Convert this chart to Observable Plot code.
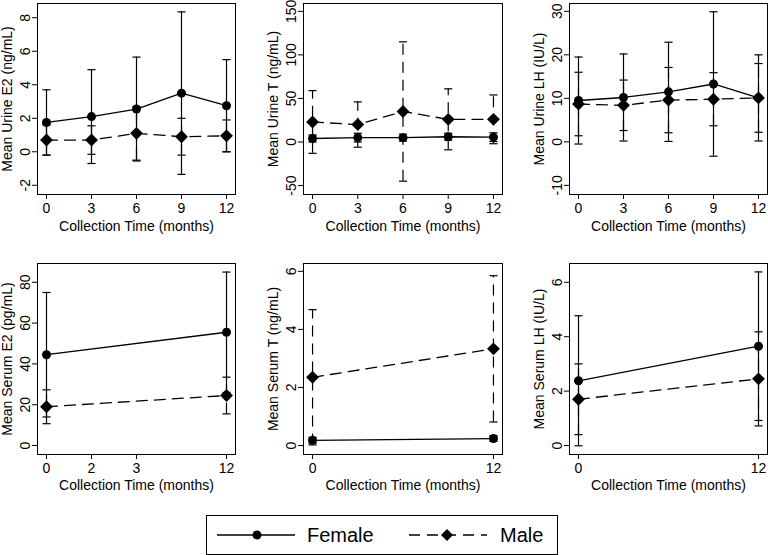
<!DOCTYPE html>
<html><head><meta charset="utf-8">
<script src="https://cdn.jsdelivr.net/npm/d3@7"></script>
<script src="https://cdn.jsdelivr.net/npm/@observablehq/plot@0.6"></script>
<style>
body{margin:0;background:#fff;}
#root{position:relative;width:768px;height:555px;font-family:"Liberation Sans",Arial,Helvetica,sans-serif;}
.cell{position:absolute;}
</style></head><body><div id="root"></div>
<script>
// ---- data ----
const monthsUrine = [0, 3, 6, 9, 12];
const monthsSerum = [0, 12];
const urineXTicks = [0, 3, 6, 9, 12];
const urineXTickLabels = ["0", "3", "6", "9", "12"];
const serumE2XTicks = [0, 3, 6, 12];
const serumE2XTickLabels = ["0", "2", "3", "12"];
const serumXTicks = [0, 12];
const serumXTickLabels = ["0", "12"];

const urineE2Female = [1.75, 2.1, 2.55, 3.5, 2.75];
const urineE2FemaleSD = [1.95, 2.8, 3.1, 4.85, 2.75];
const urineE2Male = [0.7, 0.7, 1.1, 0.9, 0.95];
const urineE2MaleSD = [0.9, 0.85, 1.6, 1.1, 0.95];
const urineE2YTicks = [-2, 0, 2, 4, 6, 8];

const urineTFemale = [4, 5, 5, 6, 5.5];
const urineTFemaleSD = [4, 5, 4, 4, 5];
const urineTMale = [23, 20, 35, 26, 26];
const urineTMaleSD = [36, 26, 80, 35, 28];
const urineTYTicks = [-50, 0, 50, 100, 150];

const urineLHFemale = [9.5, 10.2, 11.5, 13.3, 10.1];
const urineLHFemaleSD = [10, 10, 11.4, 16.6, 9.9];
const urineLHMale = [8.7, 8.4, 9.6, 9.8, 10.1];
const urineLHMaleSD = [7.3, 5.8, 7.5, 6.1, 7.9];
const urineLHYTicks = [-10, 0, 10, 20, 30];

const serumE2Female = [44.5, 55.5];
const serumE2FemaleSD = [30.5, 29.5];
const serumE2Male = [19, 24.5];
const serumE2MaleSD = [8.3, 9];
const serumE2YTicks = [0, 20, 40, 60, 80];

const serumTFemale = [0.18, 0.24];
const serumTFemaleSD = [0.1, 0.1];
const serumTMale = [2.35, 3.33];
const serumTMaleSD = [2.33, 2.52];
const serumTYTicks = [0, 2, 4, 6];

const serumLHFemale = [2.38, 3.65];
const serumLHFemaleSD = [2.39, 2.73];
const serumLHMale = [1.7, 2.45];
const serumLHMaleSD = [1.3, 1.73];
const serumLHYTicks = [0, 2, 4, 6];

const xLabel = "Collection Time (months)";
const FONT = '"Liberation Sans", Arial, Helvetica, sans-serif';
const DASH = "11,7";

function rows(x, mean, sd) {
  return x.map((m, i) => ({m, v: mean[i], lo: mean[i] - sd[i], hi: mean[i] + sd[i]}));
}

function panel(o) {
  const F = rows(o.x, o.female, o.femaleSD);
  const M = rows(o.x, o.male, o.maleSD);
  const cap = 0.27;
  const bars = (D, dash) => [
    Plot.ruleX(D, {x: "m", y1: "lo", y2: "hi", stroke: "black", strokeWidth: 1.2, strokeDasharray: dash}),
    Plot.link(D, {x1: d => d.m - cap, x2: d => d.m + cap, y1: "hi", y2: "hi", stroke: "black", strokeWidth: 1.2}),
    Plot.link(D, {x1: d => d.m - cap, x2: d => d.m + cap, y1: "lo", y2: "lo", stroke: "black", strokeWidth: 1.2})
  ];
  return Plot.plot({
    width: 256, height: o.height,
    marginLeft: o.ml, marginRight: o.mr, marginTop: o.mt, marginBottom: o.mb,
    style: {fontFamily: FONT, fontSize: "14px", color: "black", background: "white", overflow: "visible"},
    x: {domain: [-0.6, 12.6]},
    y: {domain: o.yDomain},
    marks: [
      Plot.axisX({ticks: o.xTicks, tickFormat: d => o.xTickLabels[o.xTicks.indexOf(d)], tickSize: 5, tickPadding: 4,
        fontSize: 14, label: xLabel, labelAnchor: "center", labelOffset: o.xlo, labelArrow: "none"}),
      Plot.axisY({ticks: o.yTicks, tickFormat: d => String(d), tickSize: 5, tickPadding: 3, tickRotate: -90,
        fontSize: 14, label: o.yLabel, labelAnchor: "center", labelOffset: 35, labelArrow: "none"}),
      ...bars(M, DASH),
      Plot.line(M, {x: "m", y: "v", stroke: "black", strokeWidth: 1.3, strokeDasharray: DASH}),
      ...bars(F, null),
      Plot.line(F, {x: "m", y: "v", stroke: "black", strokeWidth: 1.3}),
      Plot.dot(F, {x: "m", y: "v", r: 4.5, fill: "black", symbol: "circle"}),
      Plot.dot(M, {x: "m", y: "v", r: 5.8, fill: "black", symbol: "diamond2"}),
      Plot.frame({stroke: "black", strokeWidth: 1})
    ]
  });
}

const root = document.getElementById("root");
function place(el, left, top) {
  const d = document.createElement("div");
  d.className = "cell"; d.style.left = left + "px"; d.style.top = top + "px";
  d.appendChild(el); root.appendChild(d);
}

const topRow = {height: 250, mt: 3, mb: 56, xlo: 36};
const botRow = {height: 250, mt: 13, mb: 46, xlo: 35};

place(panel({...topRow, ml: 37, mr: 21, x: monthsUrine, female: urineE2Female, femaleSD: urineE2FemaleSD,
  male: urineE2Male, maleSD: urineE2MaleSD, yDomain: [-2.55, 8.85], yTicks: urineE2YTicks,
  xTicks: urineXTicks, xTickLabels: urineXTickLabels, yLabel: "Mean Urine E2 (ng/mL)"}), 0, 0);
place(panel({...topRow, ml: 47, mr: 10, x: monthsUrine, female: urineTFemale, femaleSD: urineTFemaleSD,
  male: urineTMale, maleSD: urineTMaleSD, yDomain: [-60.3, 159], yTicks: urineTYTicks,
  xTicks: urineXTicks, xTickLabels: urineXTickLabels, yLabel: "Mean Urine T (ng/mL)"}), 256, 0);
place(panel({...topRow, ml: 57, mr: 1, x: monthsUrine, female: urineLHFemale, femaleSD: urineLHFemaleSD,
  male: urineLHMale, maleSD: urineLHMaleSD, yDomain: [-12.1, 31.8], yTicks: urineLHYTicks,
  xTicks: urineXTicks, xTickLabels: urineXTickLabels, yLabel: "Mean Urine LH (IU/L)"}), 512, 0);

place(panel({...botRow, ml: 37, mr: 21, x: monthsSerum, female: serumE2Female, femaleSD: serumE2FemaleSD,
  male: serumE2Male, maleSD: serumE2MaleSD, yDomain: [-4.4, 89.2], yTicks: serumE2YTicks,
  xTicks: serumE2XTicks, xTickLabels: serumE2XTickLabels, yLabel: "Mean Serum E2 (pg/mL)"}), 0, 250);
place(panel({...botRow, ml: 47, mr: 10, x: monthsSerum, female: serumTFemale, femaleSD: serumTFemaleSD,
  male: serumTMale, maleSD: serumTMaleSD, yDomain: [-0.31, 6.27], yTicks: serumTYTicks,
  xTicks: serumXTicks, xTickLabels: serumXTickLabels, yLabel: "Mean Serum T (ng/mL)"}), 256, 250);
place(panel({...botRow, ml: 57, mr: 1, x: monthsSerum, female: serumLHFemale, femaleSD: serumLHFemaleSD,
  male: serumLHMale, maleSD: serumLHMaleSD, yDomain: [-0.33, 6.69], yTicks: serumLHYTicks,
  xTicks: serumXTicks, xTickLabels: serumXTickLabels, yLabel: "Mean Serum LH (IU/L)"}), 512, 250);

// legend
const legendSeries = ["Female", "Male"];
const ns = "http://www.w3.org/2000/svg";
const lg = document.createElementNS(ns, "svg");
lg.setAttribute("width", 353); lg.setAttribute("height", 41);
lg.innerHTML = `
<rect x="0.5" y="0.5" width="351" height="39" fill="white" stroke="black" stroke-width="1"/>
<line x1="11" x2="89" y1="20" y2="20" stroke="black" stroke-width="1.3"/>
<circle cx="51" cy="20" r="4.5" fill="black"/>
<text x="101" y="27" font-family='${FONT}' font-size="20">${legendSeries[0]}</text>
<line x1="203" x2="281" y1="20" y2="20" stroke="black" stroke-width="1.3" stroke-dasharray="${DASH}"/>
<path d="M241,14 L247,20 L241,26 L235,20 Z" fill="black"/>
<text x="294" y="27" font-family='${FONT}' font-size="20">${legendSeries[1]}</text>`;
place(lg, 206, 515);
</script></body></html>
